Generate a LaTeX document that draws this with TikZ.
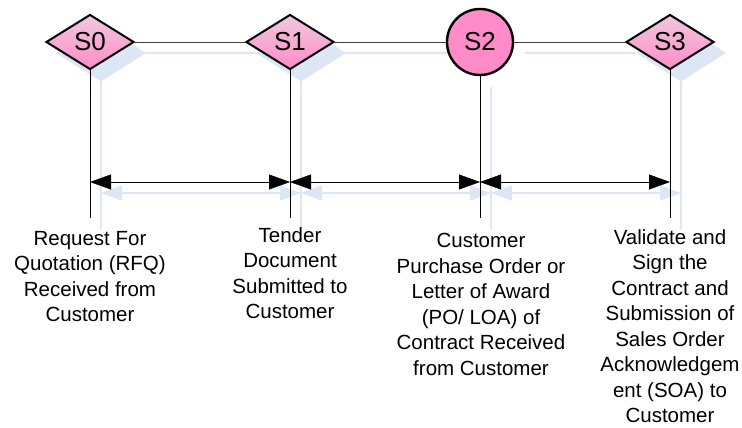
\documentclass[tikz,border=0pt]{standalone}
\usepackage{fontspec}
\setmainfont{Liberation Sans}
\usetikzlibrary{arrows.meta,shapes.geometric}
\definecolor{rose}{RGB}{255,140,200}
\definecolor{roselight}{RGB}{240,200,222}
\definecolor{shadowblue}{RGB}{220,230,244}
\pgfdeclarelayer{shadow}
\pgfdeclarelayer{back}
\pgfsetlayers{shadow,back,main}

\begin{document}
\begin{tikzpicture}[x=1pt,y=-1pt,>={Triangle[length=21pt,width=15pt]},every node/.style={font=\fontsize{20.5}{25.5}\selectfont}]
\tikzstyle{stage}=[diamond,draw,line width=2pt,minimum width=88pt,minimum height=55pt,inner sep=0pt,top color=roselight,bottom color=rose,font=\fontsize{26}{30}\selectfont]
\tikzstyle{award}=[circle,draw,line width=2.4pt,minimum size=66pt,inner sep=0pt,fill=rose,font=\fontsize{26}{30}\selectfont]
\tikzstyle{txt}=[anchor=north,align=center,inner sep=0pt]
\tikzstyle{sh}=[draw=shadowblue,line width=1.6pt,transform canvas={shift={(11pt,-11pt)}}]
\useasboundingbox (0,0) rectangle (742,428);
% stages
\node[stage] (s0) at (90,42) {S0};
\node[stage] (s1) at (290,42) {S1};
\node[award] (s2) at (480,42) {S2};
\node[stage] (s3) at (670,42) {S3};
% line ends and arrow levels
\coordinate (a0) at (90,182);\coordinate (a1) at (290,182);
\coordinate (a2) at (480,182);\coordinate (a3) at (670,182);
\coordinate (e0) at (90,218);\coordinate (e1) at (290,218);
\coordinate (e2) at (480,218);\coordinate (e3) at (670,218);
% descriptions
\node[txt] (t0) at (90,231) {Request For\\Quotation (RFQ)\\Received from\\Customer};
\node[txt] (t1) at (290,227) {Tender\\Document\\Submitted to\\Customer};
\node[txt] (t2) at (481,233) {Customer\\Purchase Order or\\Letter of Award\\(PO/ LOA) of\\Contract Received\\from Customer};
\node[txt] (t3) at (670,229) {Validate and\\Sign the\\Contract and\\Submission of\\Sales Order\\Acknowledgem\\ent (SOA) to\\Customer};
\begin{pgfonlayer}{back}
\draw[black!75] (s0) -- (s1) -- (s2) -- (s3);
\draw (s0.south) -- (e0);\draw (s1.south) -- (e1);
\draw (s2.south) -- (e2);\draw (s3.south) -- (e3);
\draw[<->] (a0) -- (a1);\draw[<->] (a1) -- (a2);\draw[<->] (a2) -- (a3);
\end{pgfonlayer}
\begin{pgfonlayer}{shadow}
\draw[sh] (s0) -- (s1) -- (s2) -- (s3);
\draw[sh] (s0.south) -- (e0);\draw[sh] (s1.south) -- (e1);
\draw[sh] (s2.south) -- (e2);\draw[sh] (s3.south) -- (e3);
\draw[sh,line width=1.4pt,<->,fill=shadowblue] (a0) -- (a1);
\draw[sh,line width=1.4pt,<->,fill=shadowblue] (a1) -- (a2);
\draw[sh,line width=1.4pt,<->,fill=shadowblue] (a2) -- (a3);
\fill[shadowblue,transform canvas={shift={(11pt,-11pt)}}] (s0.north) -- (s0.east) -- (s0.south) -- (s0.west) -- cycle;
\fill[shadowblue,transform canvas={shift={(11pt,-11pt)}}] (s1.north) -- (s1.east) -- (s1.south) -- (s1.west) -- cycle;
\fill[shadowblue,transform canvas={shift={(11pt,-11pt)}}] (s3.north) -- (s3.east) -- (s3.south) -- (s3.west) -- cycle;
\fill[white,transform canvas={shift={(11pt,-11pt)}}] (s2.center) circle[radius=34];
\end{pgfonlayer}
\end{tikzpicture}
\end{document}
